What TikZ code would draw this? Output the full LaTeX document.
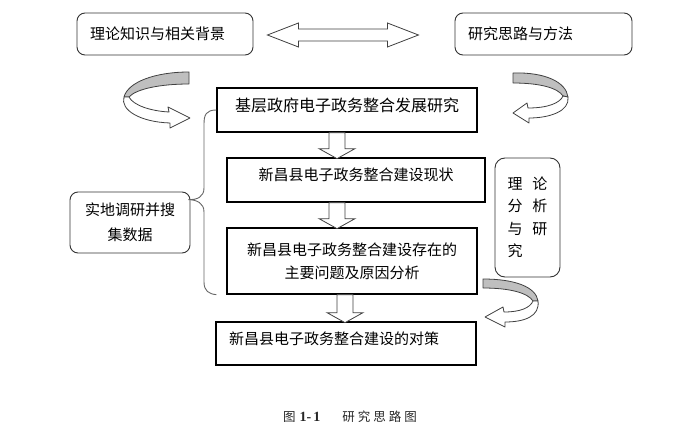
\documentclass[tikz,border=0pt]{standalone}
\usepackage{fontspec}
\setmainfont{Noto Sans CJK SC}
\newfontfamily\capnum{Liberation Serif}
\usetikzlibrary{calc}

% fleche pleine vers le bas : #1 point de depart, #2 longueur
\newcommand{\flechebas}[2]{%
  \draw[blk] (#1) ++(-8,0) -- ++(0,#2-10) -- ++(-10,0) -- ++(18,10) -- ++(18,-10) -- ++(-10,0) -- ++(0,-#2+10) -- cycle;}

\begin{document}
\begin{tikzpicture}[x=1pt,y=-1pt,
  boite/.style={draw, line width=1.3pt, minimum height=44pt, inner sep=0pt, font=\fontsize{15}{23}\selectfont},
  ronde/.style={draw=black!80, line width=0.9pt, rounded corners=8pt, inner sep=0pt, font=\fontsize{15}{25}\selectfont},
  haut/.style={text height=13pt, text depth=11.5pt},
  blk/.style={draw=black!75, line width=0.8pt, fill=white},
  ruban/.style={draw=black!75, line width=0.8pt, line join=round},
  accolade/.style={draw=black!60, line width=0.9pt}]
  \useasboundingbox (0,0) rectangle (688,436);

  % Boites du haut
  \node[ronde, minimum width=176pt, minimum height=42pt, text width=150pt, align=left] (tl) at (165,34) {理论知识与相关背景};
  \node[ronde, minimum width=177pt, minimum height=42pt, text width=151pt, align=left] (tr) at (543.5,34) {研究思路与方法};

  % Fleche double entre les deux
  \draw[blk] ($(tl.east)+(14,1)$) -- ++(31,-12) -- ++(0,6) -- ++(89,0) -- ++(0,-6) -- ++(31,12) -- ++(-31,12) -- ++(0,-6) -- ++(-89,0) -- ++(0,6) -- cycle;

  % Etapes de la recherche
  \node[boite, minimum width=260pt, font=\fontsize{16}{23}\selectfont, text height=13pt, text depth=11pt] (b1) at (347,110) {基层政府电子政务整合发展研究};
  \node[boite, minimum width=258pt, haut] (b2) at (356,180) {新昌县电子政务整合建设现状};
  \node[boite, minimum width=250pt, minimum height=66pt, align=center] (b3) at (352,261) {新昌县电子政务整合建设存在的\\主要问题及原因分析};
  \node[boite, minimum width=260pt, minimum height=43pt, text width=234pt, align=left, haut] (b4) at (346,343.5) {新昌县电子政务整合建设的对策};

  % Fleches entre les etapes
  \flechebas{$(b1.south)+(-10,0)$}{26}
  \flechebas{$(b2.south)+(-19,0)$}{26}
  \flechebas{$(b3.south)+(-7,0)$}{28}

  % Boites laterales
  \node[ronde, minimum width=120pt, minimum height=61pt, align=center] (fd) at (130,222.5) {实地调研并搜\\集数据};
  \node[ronde, rounded corners=10pt, minimum width=65pt, minimum height=119pt, align=left, font=\fontsize{15}{22.5}\selectfont] (ta) at (527.5,217.5) {理\hspace{10pt}论\\分\hspace{10pt}析\\与\hspace{10pt}研\\究};

  % Accolade
  \coordinate (pointe) at ($(fd.north east)+(-2,8)$);
  \coordinate (fin) at ($(b3.south west)+(-10,0)$);
  \draw[accolade] (b1.west) .. controls (206,110) and (204,115) .. (204,124) -- (204,188)
    .. controls (204,197) and (197,200) .. (pointe)
    .. controls (197,200) and (204,203) .. (204,212) -- (204,282)
    .. controls (204,291) and (209,294) .. (fin);

  % Fleches courbes
  \fill[black!25] (189,72) .. controls (155,72) and (128,82) .. (124,97) -- (129,97) .. controls (136,89) and (160,84) .. (189,84) -- cycle;
  \draw[ruban] (189,72) .. controls (155,72) and (128,82) .. (124,97) -- (129,97) .. controls (136,89) and (160,84) .. (189,84) -- cycle;
  \draw[ruban, fill=white] (124,97) .. controls (120,110) and (140,122) .. (170,123) -- (170,128) -- (190,118) -- (168,107) -- (169,112) .. controls (150,111) and (133,105) .. (129,97) -- cycle;

  \fill[black!25] (513,73) .. controls (545,72) and (566,82) .. (568,97) -- (563,96) .. controls (558,88) and (540,83) .. (513,83) -- cycle;
  \draw[ruban] (513,73) .. controls (545,72) and (566,82) .. (568,97) -- (563,96) .. controls (558,88) and (540,83) .. (513,83) -- cycle;
  \draw[ruban, fill=white] (568,97) .. controls (570,111) and (550,118) .. (529,118) -- (529,123) -- (513,113) -- (527,103) -- (528,108) .. controls (548,108) and (560,103) .. (563,96) -- cycle;

  \fill[black!25] (483,279) .. controls (515,279) and (536,287) .. (538,301) -- (533,301) .. controls (528,293) and (510,288) .. (483,288) -- cycle;
  \draw[ruban] (483,279) .. controls (515,279) and (536,287) .. (538,301) -- (533,301) .. controls (528,293) and (510,288) .. (483,288) -- cycle;
  \draw[ruban, fill=white] (538,301) .. controls (540,316) and (525,322) .. (505,322) -- (505,327) -- (485,317) -- (503,307) -- (504,312) .. controls (520,312) and (530,308) .. (533,301) -- cycle;

  % Legende
  \node[anchor=west, inner sep=0pt, text=black!85, font=\fontsize{12.5}{14}\selectfont] (leg) at (283,417) {图\hspace{4pt}{\capnum\bfseries\fontsize{14}{14}\selectfont 1-\hspace{2pt}1}\hspace{22pt}研\hspace{3pt}究\hspace{3pt}思\hspace{3pt}路\hspace{3pt}图};
\end{tikzpicture}
\end{document}
